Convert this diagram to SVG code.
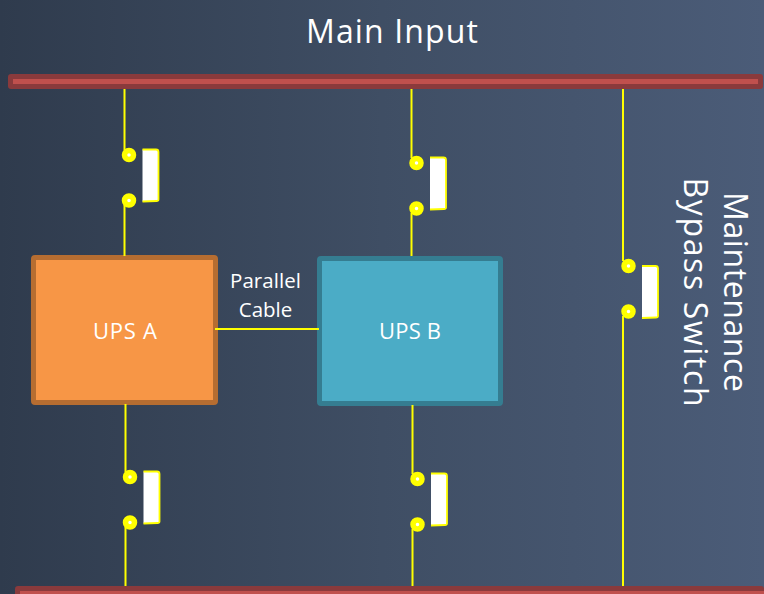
<svg xmlns="http://www.w3.org/2000/svg" width="764" height="594" viewBox="0 0 764 594">
<defs>
<linearGradient id="bg" x1="0" y1="0" x2="1" y2="0"><stop offset="0" stop-color="#2f3b4d"/><stop offset="0.5" stop-color="#3f4e64"/><stop offset="1" stop-color="#4b5c78"/></linearGradient>
<g id="dots"><circle cx="0" cy="0" r="4.500" class="dot"/><circle cx="0" cy="45.500" r="4.500" class="dot"/></g>
<g id="blade"><path d="M13.500-5.500H27Q29.500-5.500 29.500-3V44.500Q29.500 46 27.500 46L13.500 46.500Z" fill="#fff"/><path d="M13.500-5.500H27Q29.500-5.500 29.500-3V44.500Q29.500 46 27.500 46L13.500 46.500" class="blade"/></g>
</defs>
<style>
.dot{fill:#fff;stroke:#ffff00;stroke-width:5.500}
.blade{fill:none;stroke:#ffff00;stroke-width:1.800}
.wire{fill:none;stroke:#ffff00;stroke-width:2}
.t{font-family:"Open Sans","Noto Sans",sans-serif;fill:#fff}
</style>
<rect width="764" height="594" fill="url(#bg)"/>
<g id="main-input-bus"><rect x="8" y="74" width="755" height="15" rx="3" fill="#8a3a3c"/><rect x="13" y="79" width="745" height="5" fill="#c0504d"/></g>
<g id="output-bus"><rect x="15" y="586" width="749" height="15" rx="3" fill="#8a3a3c"/><rect x="20" y="591" width="744" height="5" fill="#c0504d"/></g>
<g id="main-input-label"><text class="t" x="392" y="43" font-size="32" text-anchor="middle" textLength="172" lengthAdjust="spacing">Main Input</text></g>
<g id="ups-a"><rect x="33.500" y="257.500" width="182" height="145" rx="1.500" fill="#f79646" stroke="#b66d31" stroke-width="5"/><text class="t" x="125" y="339" font-size="22" text-anchor="middle" textLength="64" lengthAdjust="spacing">UPS A</text></g>
<g id="ups-b"><rect x="319.500" y="258.500" width="181" height="145" rx="1.500" fill="#4bacc6" stroke="#357d91" stroke-width="5"/><text class="t" x="410" y="339" font-size="22" text-anchor="middle" textLength="62" lengthAdjust="spacing">UPS B</text></g>
<g id="connectors">
<path class="wire" d="M124.500 89V150M124.500 205V256"/>
<path class="wire" d="M411.500 89V158M411.500 213V256"/>
<path class="wire" d="M623 89V261M623 316V586"/>
<path class="wire" d="M125.500 404V472M125.500 527V586"/>
<path class="wire" d="M412.500 405V474M412.500 529V586"/>
<path class="wire" d="M215 329H319"/>
</g>
<g id="parallel-cable-label"><text class="t" x="265.500" y="288" font-size="20.500" text-anchor="middle" textLength="71" lengthAdjust="spacing">Parallel</text><text class="t" x="265.500" y="317" font-size="20.500" text-anchor="middle">Cable</text></g>
<g id="switch-a-in"><use href="#dots" x="129" y="155"/><use href="#blade" x="129" y="155"/></g>
<g id="switch-b-in"><use href="#dots" x="416.500" y="163"/><use href="#blade" x="416.500" y="163"/></g>
<g id="switch-bypass"><use href="#dots" x="628.500" y="266"/><use href="#blade" x="628.500" y="271.500"/></g>
<g id="switch-a-out"><use href="#dots" x="130" y="477"/><use href="#blade" x="130" y="477"/></g>
<g id="switch-b-out"><use href="#dots" x="417.500" y="479"/><use href="#blade" x="417.500" y="479"/></g>
<g id="bypass-label" transform="translate(708 292) rotate(90)"><text class="t" x="0" y="-16" font-size="32" text-anchor="middle" textLength="200" lengthAdjust="spacing">Maintenance</text><text class="t" x="0" y="24" font-size="32" text-anchor="middle" textLength="229" lengthAdjust="spacing">Bypass Switch</text></g>
</svg>
